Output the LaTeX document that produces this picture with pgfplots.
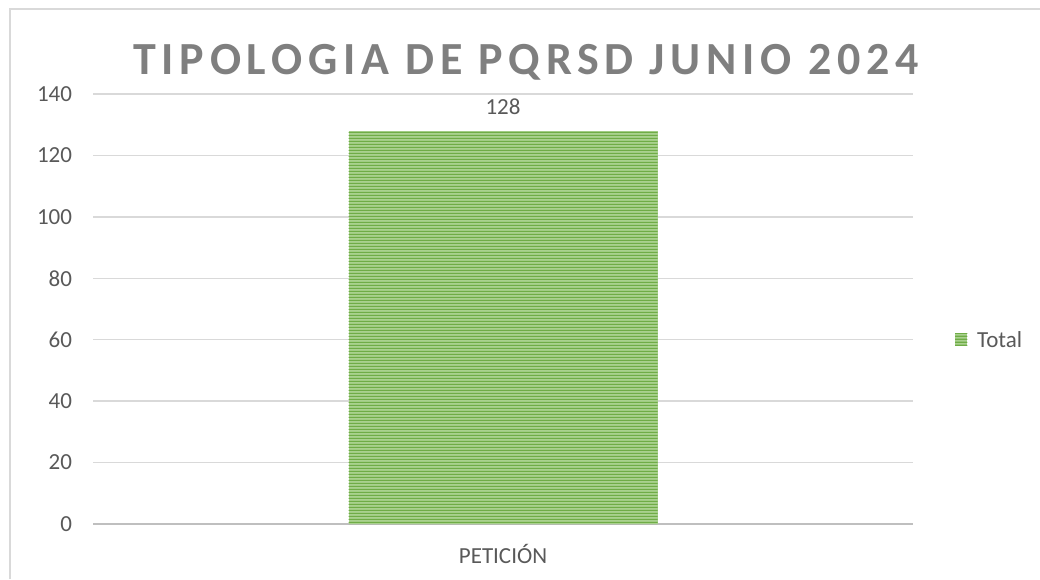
\documentclass[border=0pt]{standalone}
\usepackage{pgfplots}
\pgfplotsset{compat=1.18}
\usepackage{fontspec}
\setmainfont{Carlito}
\usetikzlibrary{patterns}
\definecolor{barlight}{HTML}{A9D18E}
\definecolor{bardark}{HTML}{6FAC46}
\definecolor{tickgray}{HTML}{595959}
\definecolor{titlegray}{HTML}{7F7F7F}
\definecolor{gridgray}{HTML}{D9D9D9}
\definecolor{axisgray}{HTML}{BFBFBF}
\pgfdeclarepatternformonly{hstripes}{\pgfpoint{0pt}{0pt}}{\pgfpoint{40pt}{3pt}}{\pgfpoint{40pt}{3pt}}{%
  \pgfpathrectangle{\pgfpoint{-1pt}{0pt}}{\pgfpoint{42pt}{1.5pt}}%
  \pgfusepath{fill}}
\begin{document}
\begin{tikzpicture}
\path[use as bounding box] (0,0) rectangle (1040pt,579pt);
\draw[gridgray, line width=1.5pt] (10pt,0pt) -- (10pt,570pt) -- (1045pt,570pt);
\node[anchor=base, text=titlegray, inner sep=0pt] at (526pt,504pt)
  {\fontsize{46}{50}\selectfont\addfontfeatures{LetterSpace=12.5}\bfseries TIPOLOGIA DE PQRSD JUNIO 2024};
\begin{axis}[
  at={(93pt,55pt)}, anchor=south west,
  width=820pt, height=430pt, scale only axis,
  xmin=-0.5, xmax=0.5, ymin=0, ymax=140,
  ytick={0,20,...,140},
  xtick={0}, xticklabels={PETICIÓN},
  major tick length=0pt,
  axis lines*=left,
  y axis line style={draw=none},
  x axis line style={draw=axisgray, line width=2pt, -},
  ymajorgrids,
  grid style={gridgray, line width=1.3pt},
  tick label style={text=tickgray, font=\fontsize{23}{27}\selectfont},
  yticklabel style={anchor=east, inner sep=0pt, outer sep=0pt},
  yticklabel shift=21pt,
  xticklabel style={anchor=base, inner sep=0pt, outer sep=0pt},
  xticklabel shift=39pt,
  /pgf/number format/assume math mode=true,
  ybar, bar width=309pt,
  nodes near coords,
  nodes near coords style={anchor=base, yshift=16pt, inner sep=0pt, text=tickgray, font=\fontsize{23}{27}\selectfont},
  legend style={at={(1.0512,0.428)}, anchor=west, draw=none, fill=none,
    font=\fontsize{23}{27}\selectfont, text=tickgray, inner sep=0pt},
  legend image code/.code={
    \fill[barlight] (0pt,-6pt) rectangle (12pt,6pt);
    \fill[pattern=hstripes, pattern color=bardark] (0pt,-6pt) rectangle (12pt,6pt);
  },
]
\addplot[fill=barlight, draw=none,
  postaction={pattern=hstripes, pattern color=bardark}]
  coordinates {(0,128)};
\addlegendentry{\hspace{8pt}Total}
\end{axis}
\end{tikzpicture}
\end{document}
